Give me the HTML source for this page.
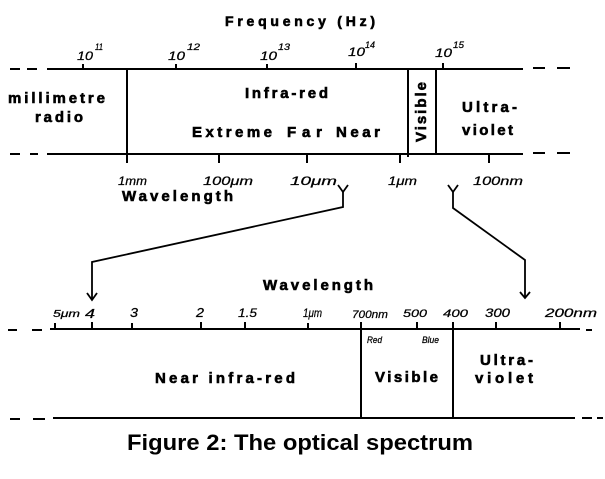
<!DOCTYPE html>
<html><head><meta charset="utf-8"><style>
html,body{margin:0;padding:0;background:#fff;}
svg{display:block;}
.b{font-family:"Liberation Sans",sans-serif;font-weight:bold;fill:#000;stroke:#000;stroke-width:0.6;}
.i{font-family:"Liberation Sans",sans-serif;font-style:italic;fill:#000;stroke:#000;stroke-width:0.25;}
.c{font-family:"Liberation Sans",sans-serif;font-weight:bold;fill:#000;}
</style></head><body>
<svg width="605" height="479" viewBox="0 0 605 479" xmlns="http://www.w3.org/2000/svg">
<g stroke="#000" stroke-width="2" fill="none" stroke-linecap="butt">
<!-- top band -->
<line x1="47" y1="69" x2="523" y2="69"/>
<line x1="10" y1="69" x2="20" y2="69"/><line x1="27" y1="69" x2="37" y2="69"/>
<line x1="533" y1="68" x2="545" y2="68"/><line x1="557" y1="68" x2="570" y2="68"/>
<line x1="47" y1="154" x2="523" y2="154"/>
<line x1="10" y1="154" x2="20" y2="154"/><line x1="30" y1="154" x2="38" y2="154"/>
<line x1="533" y1="153" x2="545" y2="153"/><line x1="557" y1="153" x2="570" y2="153"/>
<line x1="127" y1="69" x2="127" y2="163"/>
<line x1="408" y1="69" x2="408" y2="157"/>
<line x1="436" y1="69" x2="436" y2="154"/>
<!-- top ticks -->
<line x1="83" y1="64" x2="83" y2="69"/>
<line x1="176" y1="64" x2="176" y2="69"/>
<line x1="267" y1="64" x2="267" y2="69"/>
<line x1="356" y1="63" x2="356" y2="69"/>
<line x1="443" y1="63" x2="443" y2="69"/>
<!-- bottom ticks -->
<line x1="219" y1="154" x2="219" y2="163"/>
<line x1="307" y1="154" x2="307" y2="163"/>
<line x1="400" y1="154" x2="400" y2="163"/>
<line x1="489" y1="154" x2="489" y2="163"/>
<!-- second band -->
<line x1="50" y1="329" x2="580" y2="329"/>
<line x1="8" y1="330" x2="17" y2="330"/><line x1="32" y1="330" x2="42" y2="330"/>
<line x1="586" y1="330" x2="592" y2="330"/>
<line x1="53" y1="418" x2="575" y2="418"/>
<line x1="10" y1="419" x2="20" y2="419"/><line x1="33" y1="419" x2="45" y2="419"/>
<line x1="582" y1="418" x2="592" y2="418"/><line x1="597" y1="418" x2="603" y2="418"/>
<line x1="361" y1="322" x2="361" y2="418"/>
<line x1="453" y1="322" x2="453" y2="418"/>
<line x1="55" y1="323" x2="55" y2="329"/>
<line x1="92" y1="322" x2="92" y2="329"/>
<line x1="132" y1="323" x2="132" y2="329"/>
<line x1="201" y1="322" x2="201" y2="329"/>
<line x1="245" y1="322" x2="245" y2="329"/>
<line x1="308" y1="323" x2="308" y2="329"/>
<line x1="417" y1="322" x2="417" y2="329"/>
<line x1="496" y1="322" x2="496" y2="329"/>
<line x1="560" y1="322" x2="560" y2="329"/>
</g>
<!-- connectors -->
<g stroke="#000" stroke-width="1.8" fill="none" stroke-linejoin="miter">
<polyline points="338,185 343,192 348,185"/>
<polyline points="343,192 343,207 92,262 92,300"/>
<polyline points="87,293 92,300 97,293"/>
<polyline points="448,185 453,192 458,185"/>
<polyline points="453,192 453,208 525,260 525,298"/>
<polyline points="520,292 525,298 530,292"/>
</g>
<!-- titles -->
<text class="b" x="225" y="26" font-size="14" textLength="150" lengthAdjust="spacing">Frequency (Hz)</text>
<text class="b" x="8" y="103" font-size="15" textLength="97" lengthAdjust="spacing">millimetre</text>
<text class="b" x="35" y="122" font-size="15" textLength="48" lengthAdjust="spacing">radio</text>
<text class="b" x="245" y="98" font-size="15" textLength="83" lengthAdjust="spacing">Infra-red</text>
<text class="b" x="192" y="137" font-size="15" textLength="80" lengthAdjust="spacing">Extreme</text>
<text class="b" x="287" y="137" font-size="15" textLength="35" lengthAdjust="spacing">Far</text>
<text class="b" x="336" y="137" font-size="15" textLength="44" lengthAdjust="spacing">Near</text>
<text class="b" font-size="15" textLength="60" lengthAdjust="spacing" transform="translate(426,142) rotate(-90)">Visible</text>
<text class="b" x="462" y="112" font-size="15" textLength="55" lengthAdjust="spacing">Ultra-</text>
<text class="b" x="462" y="135" font-size="15" textLength="51" lengthAdjust="spacing">violet</text>
<text class="b" x="122" y="201" font-size="15" textLength="111" lengthAdjust="spacing">Wavelength</text>
<!-- frequency labels -->
<g class="i" font-size="12">
<text x="77" y="60" textLength="16" lengthAdjust="spacingAndGlyphs">10</text>
<text x="95" y="50" font-size="9" textLength="8" lengthAdjust="spacingAndGlyphs">11</text>
<text x="168" y="60" textLength="17" lengthAdjust="spacingAndGlyphs">10</text>
<text x="187" y="50" font-size="9" textLength="13" lengthAdjust="spacingAndGlyphs">12</text>
<text x="260" y="60" textLength="17" lengthAdjust="spacingAndGlyphs">10</text>
<text x="278" y="50" font-size="9" textLength="12" lengthAdjust="spacingAndGlyphs">13</text>
<text x="348" y="56" textLength="17" lengthAdjust="spacingAndGlyphs">10</text>
<text x="365" y="48" font-size="9" textLength="10" lengthAdjust="spacingAndGlyphs">14</text>
<text x="435" y="57" textLength="17" lengthAdjust="spacingAndGlyphs">10</text>
<text x="453" y="48" font-size="9" textLength="11" lengthAdjust="spacingAndGlyphs">15</text>
</g>
<!-- wavelength labels top -->
<g class="i" font-size="12">
<text x="118" y="185" textLength="29" lengthAdjust="spacingAndGlyphs">1mm</text>
<text x="203" y="185" textLength="50" lengthAdjust="spacingAndGlyphs">100μm</text>
<text x="290" y="185" textLength="47" lengthAdjust="spacingAndGlyphs">10μm</text>
<text x="388" y="185" textLength="29" lengthAdjust="spacingAndGlyphs">1μm</text>
<text x="473" y="185" textLength="50" lengthAdjust="spacingAndGlyphs">100nm</text>
</g>
<!-- second band -->
<text class="b" x="263" y="290" font-size="15" textLength="110" lengthAdjust="spacing">Wavelength</text>
<g class="i" font-size="12">
<text x="53" y="317" font-size="10" textLength="27" lengthAdjust="spacingAndGlyphs">5μm</text>
<text x="85" y="318" font-size="13" textLength="10" lengthAdjust="spacingAndGlyphs">4</text>
<text x="130" y="317" font-size="13" textLength="8" lengthAdjust="spacingAndGlyphs">3</text>
<text x="196" y="317" font-size="13" textLength="8" lengthAdjust="spacingAndGlyphs">2</text>
<text x="238" y="317" textLength="19" lengthAdjust="spacingAndGlyphs">1.5</text>
<text x="303" y="317" textLength="19" lengthAdjust="spacingAndGlyphs">1μm</text>
<text x="352" y="318" font-size="11" textLength="36" lengthAdjust="spacingAndGlyphs">700nm</text>
<text x="403" y="317" font-size="11" textLength="24" lengthAdjust="spacingAndGlyphs">500</text>
<text x="443" y="317" font-size="11" textLength="25" lengthAdjust="spacingAndGlyphs">400</text>
<text x="485" y="317" textLength="25" lengthAdjust="spacingAndGlyphs">300</text>
<text x="545" y="317" textLength="52" lengthAdjust="spacingAndGlyphs">200nm</text>
<text x="367" y="343" font-size="9" textLength="15" lengthAdjust="spacingAndGlyphs">Red</text>
<text x="422" y="343" font-size="9" textLength="17" lengthAdjust="spacingAndGlyphs">Blue</text>
</g>
<text class="b" x="155" y="383" font-size="15" textLength="140" lengthAdjust="spacing">Near infra-red</text>
<text class="b" x="375" y="382" font-size="15" textLength="63" lengthAdjust="spacing">Visible</text>
<text class="b" x="480" y="365" font-size="15" textLength="53" lengthAdjust="spacing">Ultra-</text>
<text class="b" x="475" y="383" font-size="15" textLength="58" lengthAdjust="spacing">violet</text>
<!-- caption -->
<text class="c" x="127" y="450" font-size="22" textLength="346" lengthAdjust="spacingAndGlyphs">Figure 2: The optical spectrum</text>
</svg>
</body></html>
